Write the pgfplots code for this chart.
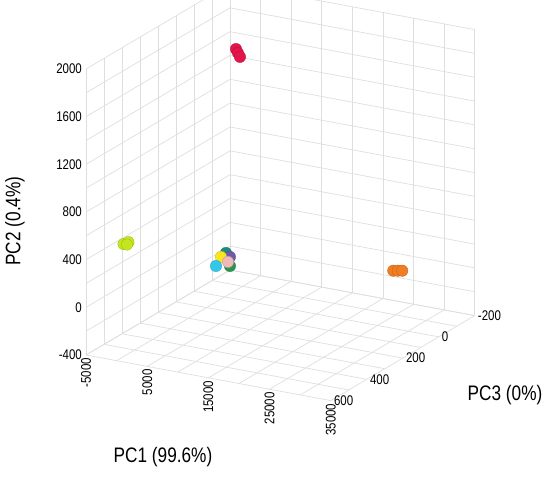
\documentclass[border=0pt]{standalone}
\usepackage{pgfplots}
\pgfplotsset{compat=1.18}
\usepackage{fontspec}
\setmainfont{Liberation Sans}[FakeStretch=0.82]
\definecolor{cRed}{RGB}{228,20,75}
\definecolor{cYG}{RGB}{195,230,30}
\definecolor{cOrange}{RGB}{240,125,35}
\definecolor{cCyan}{RGB}{50,200,235}
\definecolor{cYellow}{RGB}{250,230,30}
\definecolor{cTeal}{RGB}{30,140,120}
\definecolor{cPink}{RGB}{240,185,185}
\definecolor{cGreen}{RGB}{40,150,80}
\definecolor{cPurple}{RGB}{110,90,170}
\pgfplotsset{ballmark/.style={only marks, mark=*, mark size=5.7pt,
  mark options={solid, fill=#1, draw=#1!80!black, line width=0.3pt}}}
\begin{document}
\begin{tikzpicture}
\begin{axis}[
  x={(0.006125pt,-0.00115pt)},
  y={(0.18pt,0.10625pt)}, y dir=reverse,
  z={(0pt,0.1191667pt)},
  xmin=-5000,xmax=35000,ymin=-200,ymax=600,zmin=-400,zmax=2000,
  scaled ticks=false,
  xtick={-5000,5000,15000,25000,35000},
  xticklabels={-5000,5000,15000,25000,35000},
  ytick={-200,0,200,400,600},
  yticklabels={-200,0,200,400,600},
  ztick={-400,0,400,800,1200,1600,2000},
  zticklabels={-400,0,400,800,1200,1600,2000},
  minor x tick num=1, minor y tick num=1, minor z tick num=1,
  grid=both,
  major grid style={draw=black!13, line width=0.7pt},
  minor grid style={draw=black!13, line width=0.7pt},
  axis line style={draw=none},
  major tick length=0pt, minor tick length=0pt,
  tick label style={font=\fontsize{14}{14}\selectfont},
  xticklabel style={rotate=90, anchor=east, inner sep=3pt},
  yticklabel style={anchor=west, inner sep=3pt},
  zticklabel style={anchor=east, inner sep=4pt},
  clip=false,
]
\coordinate (B0) at (axis cs:-5000,-200,-400);
% red
\addplot3[ballmark=cRed] coordinates {
(-1082,-100,1581) (-755,-100,1551) (-428,-100,1521)};
% yellow-green
\addplot3[ballmark=cYG] coordinates {
(-3408,446,409) (-2592,446,433) (-2837,446,410)};
% orange
\addplot3[ballmark=cOrange] coordinates {
(29265,58,152) (30000,58,159) (30735,58,166)};
% mixed cluster
\addplot3[ballmark=cTeal] coordinates {(1693,50,30)};
\addplot3[ballmark=cPurple] coordinates {(2347,50,3)};
\addplot3[ballmark=cGreen] coordinates {(2347,50,-73)};
\addplot3[ballmark=cYellow] coordinates {(877,50,-11)};
\addplot3[ballmark=cPink] coordinates {(2020,50,-42)};
\addplot3[ballmark=cCyan] coordinates {(60,50,-95)};
\end{axis}
\node[font=\fontsize{21}{21}\selectfont] at ([shift={(-67pt,-187pt)}]B0) {PC1 (99.6\%)};
\node[font=\fontsize{21}{21}\selectfont, rotate=90] at ([shift={(-215pt,49pt)}]B0) {PC2 (0.4\%)};
\node[font=\fontsize{21}{21}\selectfont] at ([shift={(275pt,-125pt)}]B0) {PC3 (0\%)};
\pgfresetboundingbox
\path ([shift={(-230pt,270pt)}]B0) rectangle ([shift={(320pt,-218pt)}]B0);
\end{tikzpicture}
\end{document}
